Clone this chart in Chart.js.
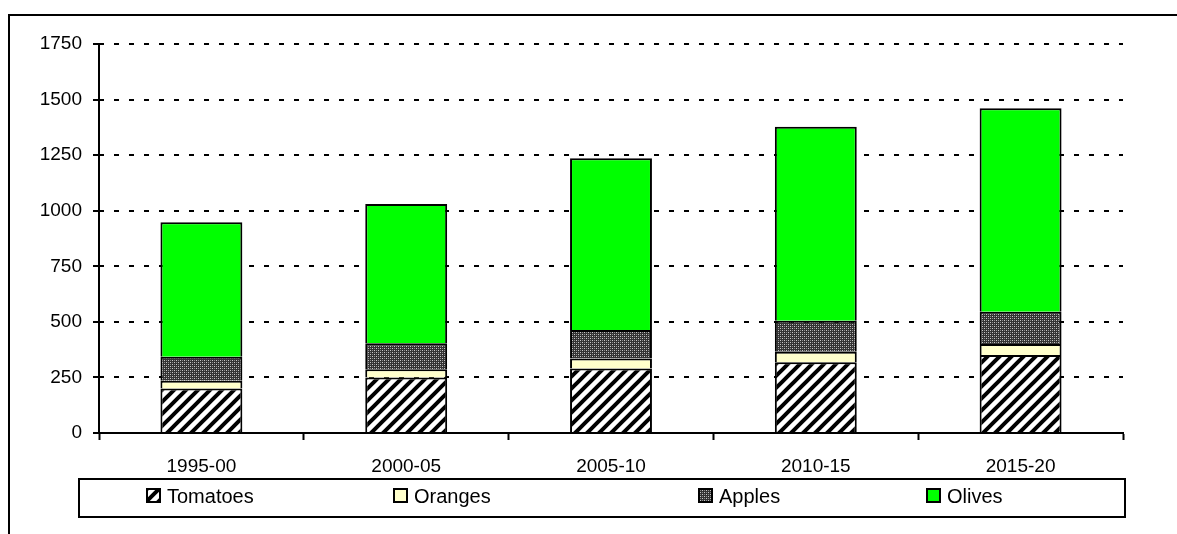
<!DOCTYPE html>
<html>
<head>
<meta charset="utf-8">
<title>Stacked production chart</title>
<script src="https://cdn.jsdelivr.net/npm/chart.js"></script>
<style>
  html, body { margin: 0; padding: 0; background: #fff; }
  #wrap { width: 1177px; height: 534px; }
</style>
</head>
<body>
<div id="wrap"><canvas id="chart" width="1177" height="534"></canvas></div>
<script>
// data
const categories = ['1995-00', '2000-05', '2005-10', '2010-15', '2015-20'];
const tomatoes = [200, 250, 290, 318, 351];
const oranges = [35, 37, 45, 48, 49];
const apples = [108, 117, 128, 139, 146];
const olives = [605, 626, 773, 873, 915];
const seriesNames = ['Tomatoes', 'Oranges', 'Apples', 'Olives'];

const FONT = '"Liberation Sans", Arial, sans-serif';

// hatch for tomatoes: wide upward diagonal
function stripePattern() {
    const t = document.createElement('canvas');
    t.width = 12; t.height = 12;
    const c = t.getContext('2d');
    c.fillStyle = '#fff';
    c.fillRect(0, 0, 12, 12);
    c.strokeStyle = '#000';
    c.lineWidth = 4;
    c.beginPath();
    c.moveTo(-6, 6); c.lineTo(6, -6);
    c.moveTo(0, 12); c.lineTo(12, 0);
    c.moveTo(6, 18); c.lineTo(18, 6);
    c.stroke();
    return c.createPattern(t, 'repeat');
}

// dotted dark crosshatch for apples
function diamondPattern() {
    const t = document.createElement('canvas');
    t.width = 4; t.height = 4;
    const c = t.getContext('2d');
    c.fillStyle = '#333';
    c.fillRect(0, 0, 4, 4);
    c.fillStyle = '#c8c8c8';
    c.fillRect(0, 0, 1, 1);
    c.fillRect(2, 2, 1, 1);
    c.fillStyle = '#8a8a8a';
    c.fillRect(2, 0, 1, 1);
    c.fillRect(0, 2, 1, 1);
    return c.createPattern(t, 'repeat');
}

const fills = [stripePattern(), '#FFFFCC', diamondPattern(), '#00FF00'];
const values = [tomatoes, oranges, apples, olives];

const datasets = seriesNames.map((name, i) => ({
    label: name,
    data: values[i],
    backgroundColor: fills[i],
    borderColor: '#000',
    borderWidth: 2,
    categoryPercentage: 1.0,
    barPercentage: 0.4
}));

// outer frame + custom legend box
const framePlugin = {
    id: 'frameAndLegend',
    afterDraw(chart) {
        const ctx = chart.ctx;
        ctx.save();
        ctx.strokeStyle = '#000';
        ctx.lineWidth = 2;
        ctx.strokeRect(9, 15, 2000, 2000);

        // legend box
        ctx.strokeRect(79, 479, 1046, 38);
        const legendX = [147, 394, 699, 927];
        ctx.font = '20px ' + FONT;
        ctx.textBaseline = 'middle';
        ctx.textAlign = 'left';
        seriesNames.forEach((name, i) => {
            const x = legendX[i];
            ctx.fillStyle = fills[i];
            ctx.fillRect(x, 489, 13, 13);
            ctx.lineWidth = 2;
            ctx.strokeStyle = '#000';
            ctx.strokeRect(x, 489, 13, 13);
            ctx.fillStyle = '#000';
            ctx.fillText(name, x + 20, 497);
        });
        ctx.restore();
    }
};

new Chart(document.getElementById('chart'), {
    type: 'bar',
    data: { labels: categories, datasets: datasets },
    options: {
        responsive: false,
        animation: false,
        layout: { padding: { left: 0, right: 54, top: 44, bottom: 0 } },
        plugins: {
            legend: { display: false },
            tooltip: { enabled: false }
        },
        scales: {
            x: {
                stacked: true,
                afterFit(scale) { scale.height = 101; },
                grid: {
                    display: true,
                    offset: true,
                    drawOnChartArea: false,
                    drawTicks: true,
                    tickLength: 7,
                    tickColor: '#000',
                    tickWidth: 2
                },
                border: { display: true, color: '#000', width: 2 },
                ticks: {
                    color: '#000',
                    font: { family: FONT, size: 19 },
                    padding: 15,
                    maxRotation: 0
                }
            },
            y: {
                stacked: true,
                min: 0,
                max: 1750,
                afterFit(scale) { scale.width = 99; },
                grid: {
                    color: (c) => c.tick && c.tick.value === 0 ? 'rgba(0,0,0,0)' : '#000',
                    lineWidth: 2,
                    drawTicks: true,
                    tickLength: 6,
                    tickColor: '#000',
                    tickWidth: 2
                },
                border: { display: true, color: '#000', width: 2, dash: [5, 10], dashOffset: 1 },
                ticks: {
                    stepSize: 250,
                    color: '#000',
                    font: { family: FONT, size: 19 },
                    padding: 11,
                    callback: (v) => String(v)
                }
            }
        }
    },
    plugins: [framePlugin]
});
</script>
</body>
</html>
